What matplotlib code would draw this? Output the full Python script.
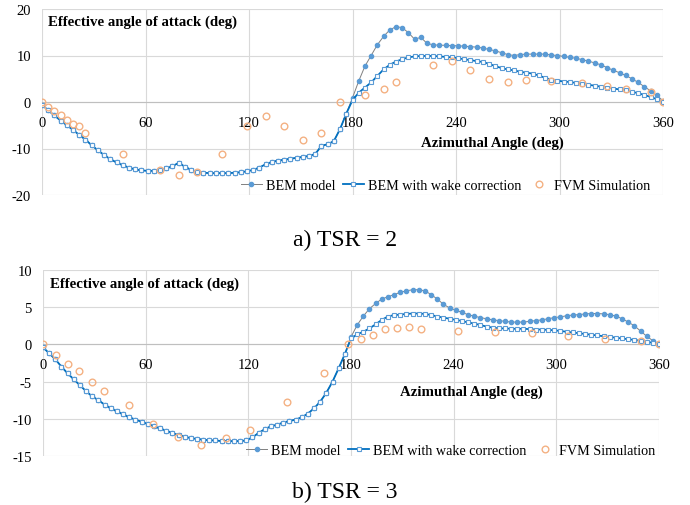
import numpy as np
import matplotlib
matplotlib.use("Agg")
from matplotlib import pyplot as plt

plt.rcParams['font.family'] = ['Liberation Serif', 'DejaVu Serif']
plt.rcParams['axes.unicode_minus'] = False

# azimuthal positions of the BEM samples (every 3.6 deg)
azimuth = np.linspace(0, 360, 101)

# ---- TSR = 2 ----
# both BEM curves coincide from 0 to ~176 deg
tsr2_common = [-0.6, -1.8, -2.9, -4.0, -5.0, -6.0, -7.1, -8.1, -9.3, -10.4,
               -11.4, -12.3, -13.0, -13.6, -14.1, -14.5, -14.7, -14.8, -14.8, -14.6,
               -14.3, -13.8, -13.1, -13.9, -14.6, -15.0, -15.2, -15.3, -15.3, -15.3,
               -15.3, -15.2, -15.1, -14.9, -14.6, -14.1, -13.4, -12.9, -12.6, -12.4,
               -12.2, -12.0, -11.8, -11.6, -11.2, -9.4, -9.1, -8.4, -5.8, -2.5]
tsr2_bem_tail = [0.9, 4.5, 7.7, 10.0, 12.3, 14.1, 15.5, 16.2, 16.0, 14.9,
                 13.5, 13.9, 12.6, 12.3, 12.2, 12.2, 12.1, 12.1, 12.0, 11.9,
                 11.8, 11.6, 11.3, 11.0, 10.6, 10.2, 10.0, 10.2, 10.3, 10.3,
                 10.3, 10.3, 10.1, 10.0, 9.8, 9.6, 9.4, 9.1, 8.8, 8.4,
                 8.0, 7.4, 6.8, 6.3, 5.7, 5.0, 4.2, 3.3, 2.4, 1.4, 0.3]
tsr2_wake_tail = [0.4, 2.0, 3.1, 4.2, 5.6, 7.0, 8.0, 8.7, 9.2, 9.6,
                  9.8, 9.9, 9.9, 9.9, 9.8, 9.7, 9.6, 9.4, 9.2, 9.0,
                  8.8, 8.6, 8.2, 7.7, 7.3, 7.0, 6.8, 6.5, 6.3, 6.1,
                  5.7, 5.2, 4.8, 4.6, 4.4, 4.3, 4.1, 3.9, 3.7, 3.5,
                  3.3, 3.1, 2.9, 2.7, 2.5, 2.2, 1.9, 1.5, 1.1, 0.6, 0.1]
tsr2_fvm_x = [0, 3.6, 7.2, 10.8, 14.4, 18, 21.6, 25.2, 46.8, 68.4, 79.2, 90,
              104.4, 118.8, 129.6, 140.4, 151.2, 162, 172.8, 187.2, 198, 205.2,
              226.8, 237.6, 248.4, 259.2, 270, 280.8, 295.2, 313.2, 327.6, 338.4,
              352.8, 360]
tsr2_fvm_y = [0, -1.0, -2.0, -2.9, -3.9, -4.7, -5.2, -6.6, -11.1, -14.7, -15.8, -15.0,
              -11.1, -5.1, -3.1, -5.2, -8.1, -6.6, 0.0, 1.4, 2.9, 4.4,
              7.9, 8.8, 6.9, 4.9, 4.4, 4.7, 4.6, 4.1, 3.5, 2.8,
              2.1, 0.0]

# ---- TSR = 3 ----
tsr3_common = [-0.4, -1.2, -2.0, -3.0, -3.9, -4.7, -5.5, -6.3, -7.0, -7.5,
               -8.1, -8.6, -9.0, -9.4, -9.8, -10.1, -10.4, -10.7, -11.0, -11.3,
               -11.6, -11.9, -12.2, -12.4, -12.6, -12.7, -12.8, -12.9, -12.9, -13.0,
               -13.0, -13.0, -13.0, -12.9, -12.5, -11.9, -11.4, -11.0, -10.8, -10.5,
               -10.3, -10.1, -9.8, -9.3, -8.6, -7.7, -6.5, -5.0, -3.2, -1.3]
tsr3_bem_tail = [1.0, 2.6, 3.8, 4.8, 5.5, 6.1, 6.4, 6.7, 7.0, 7.2,
                 7.35, 7.35, 7.2, 6.7, 6.1, 5.4, 4.9, 4.6, 4.3, 4.0,
                 3.8, 3.6, 3.45, 3.3, 3.2, 3.1, 3.0, 3.0, 3.0, 3.1,
                 3.2, 3.3, 3.45, 3.6, 3.7, 3.85, 3.95, 4.0, 4.1, 4.15,
                 4.15, 4.1, 4.0, 3.8, 3.45, 3.0, 2.5, 1.8, 1.1, 0.5, 0.1]
tsr3_wake_tail = [0.8, 1.35, 1.7, 2.15, 2.7, 3.3, 3.75, 3.95, 4.0, 4.1,
                  4.15, 4.15, 4.1, 3.95, 3.75, 3.6, 3.45, 3.3, 3.15, 2.95,
                  2.8, 2.6, 2.4, 2.25, 2.15, 2.15, 2.1, 2.1, 2.1, 2.05,
                  2.0, 2.0, 1.95, 1.9, 1.8, 1.7, 1.6, 1.5, 1.4, 1.3,
                  1.2, 1.1, 1.0, 0.9, 0.8, 0.7, 0.6, 0.5, 0.35, 0.2, 0.1]
tsr3_fvm_x = [0, 7.4, 14.4, 21.2, 28.8, 35.8, 50.4, 64.5, 78.8, 92.6, 106.8, 121.2,
              142.6, 164.1, 178, 186, 193, 200, 207, 214, 221, 242.5, 264, 285.5,
              307, 328.5, 349.5, 360]
tsr3_fvm_y = [0, -1.4, -2.6, -3.6, -5.1, -6.3, -8.1, -10.7, -12.5, -13.5, -12.6, -11.5,
              -7.8, -3.9, 0, 0.7, 1.3, 2.1, 2.2, 2.3, 2.1, 1.8, 1.6, 1.5,
              1.1, 0.7, 0.4, 0]

x_ticks = [0, 60, 120, 180, 240, 300, 360]
labels = ["BEM model", "BEM with wake correction", "FVM Simulation"]

GRID = "#d9d9d9"
BEM_C = "#5B9BD5"
WAKE_C = "#0070C0"
FVM_C = "#F4B183"


def draw_panel(ax, bem, wake, fvm_x, fvm_y, ylim, ystep, title_xy, azi_xy, leg_anchor):
    ax.plot(azimuth, bem, '-', color='#808080', lw=0.7, marker='o', ms=3.0,
            mfc=BEM_C, mec=BEM_C, label=labels[0], zorder=3)
    ax.plot(azimuth, wake, '-', color=WAKE_C, lw=1.3, marker='s', ms=2.6,
            mfc='white', mec=BEM_C, mew=0.8, label=labels[1], zorder=4)
    ax.plot(fvm_x, fvm_y, 'o', ms=4.8, mfc='none', mec=FVM_C, mew=1.0,
            label=labels[2], zorder=5)

    ax.set_xlim(0, 360)
    ax.set_ylim(*ylim)
    ax.set_xticks(x_ticks)
    ax.set_yticks(np.arange(ylim[0], ylim[1] + 1, ystep))
    ax.grid(True, color=GRID, lw=0.8)
    ax.set_axisbelow(True)

    for s in ['top', 'right', 'left']:
        ax.spines[s].set_visible(False)
    ax.spines['bottom'].set_position(('data', 0))
    ax.spines['bottom'].set_color('#bfbfbf')
    ax.spines['bottom'].set_linewidth(0.8)
    ax.spines['bottom'].set_zorder(1)
    ax.tick_params(axis='both', length=0, labelsize=10.5, colors='#000000')
    ax.tick_params(axis='x', pad=10)
    ax.tick_params(axis='y', pad=8)

    ax.text(title_xy[0], title_xy[1], "Effective angle of attack (deg)",
            fontsize=10.7, fontweight='bold', va='center', ha='left')
    ax.text(azi_xy[0], azi_xy[1], "Azimuthal Angle (deg)",
            fontsize=10.7, fontweight='bold', va='center', ha='center')
    ax.legend(loc='center', bbox_to_anchor=leg_anchor, ncol=3, frameon=False,
              fontsize=10.2, handlelength=1.5, handletextpad=0.3,
              columnspacing=0.5, borderaxespad=0)


fig = plt.figure(figsize=(6.9, 5.06), dpi=100)
ax1 = fig.add_axes([42 / 690, 1 - 196 / 506, 621 / 690, 186 / 506])
ax2 = fig.add_axes([43 / 690, 1 - 457 / 506, 616 / 690, 186 / 506])

draw_panel(ax1, tsr2_common + tsr2_bem_tail, tsr2_common + tsr2_wake_tail,
           tsr2_fvm_x, tsr2_fvm_y, (-20, 20), 10, (3.5, 17.4), (261, -8.6), (0.65, 0.05))
draw_panel(ax2, tsr3_common + tsr3_bem_tail, tsr3_common + tsr3_wake_tail,
           tsr3_fvm_x, tsr3_fvm_y, (-15, 10), 5, (4, 8.2), (250.6, -6.3), (0.662, 0.03))

fig.text(0.5, 1 - 240 / 506, "a) TSR = 2", ha='center', va='center', fontsize=17)
fig.text(0.5, 1 - 492 / 506, "b) TSR = 3", ha='center', va='center', fontsize=17)

fig.savefig("out.png", dpi=100)
